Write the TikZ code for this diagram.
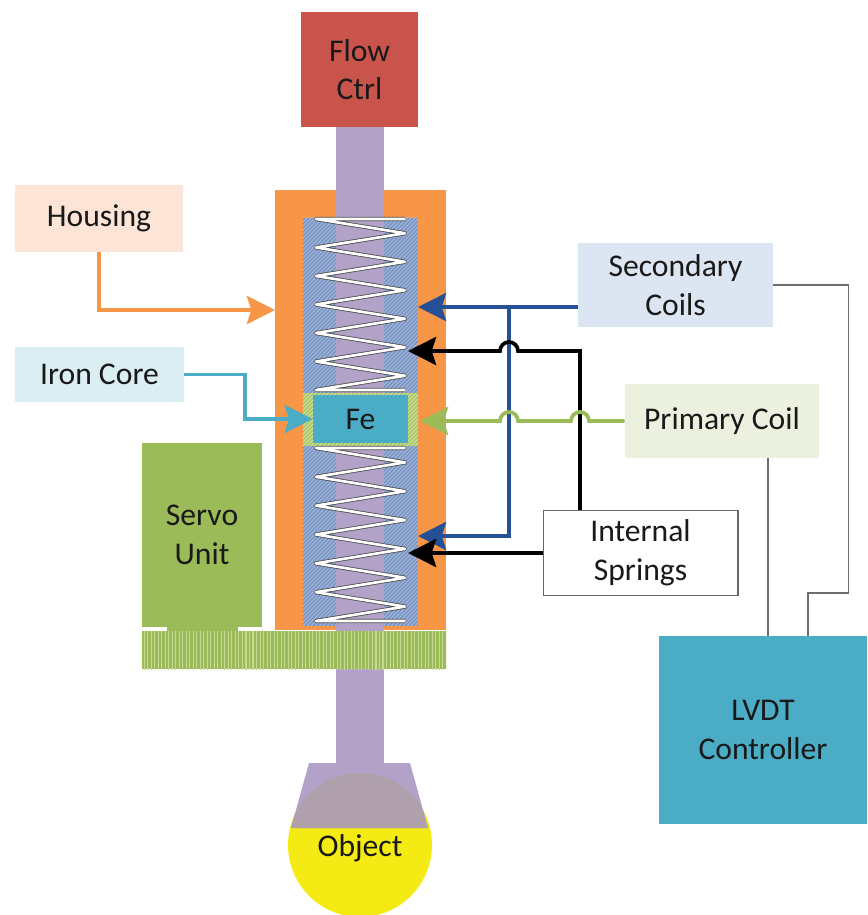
\documentclass[tikz,border=0pt]{standalone}
\usepackage{fontspec}
\setmainfont{Carlito}
\usetikzlibrary{arrows.meta,patterns.meta,positioning}

\definecolor{housingorange}{RGB}{247,150,70}
\definecolor{coilblue}{RGB}{122,148,196}
\definecolor{coilhatch}{RGB}{168,188,220}
\definecolor{rodpurple}{RGB}{178,162,199}
\definecolor{corebase}{RGB}{168,198,104}
\definecolor{corehatch}{RGB}{212,228,165}
\definecolor{fecyan}{RGB}{75,172,198}
\definecolor{flowred}{RGB}{200,84,76}
\definecolor{servogreen}{RGB}{155,187,89}
\definecolor{basehatch}{RGB}{198,218,150}
\definecolor{objyellow}{RGB}{245,235,20}
\definecolor{objmauve}{RGB}{176,160,172}
\definecolor{housingbg}{RGB}{252,229,214}
\definecolor{ironbg}{RGB}{218,238,243}
\definecolor{secbg}{RGB}{220,230,242}
\definecolor{pribg}{RGB}{235,241,222}
\definecolor{secblue}{RGB}{36,80,150}
\definecolor{wiregrey}{RGB}{110,110,110}

\begin{document}
\begin{tikzpicture}[x=0.02cm,y=-0.02cm,font=\fontsize{18}{22}\selectfont,
  lbl/.style={rectangle,inner sep=2pt,align=center,text=black!90},
  arr/.style={line width=2.1pt,-{Stealth[length=16pt,width=16pt,inset=2.5pt]}},
  wire/.style={draw=wiregrey,line width=0.6pt},
  hatch/.style={line width=0.45pt},
  spring/.style={draw=black!70,line width=0.45pt,double=white,double distance=1.5pt,line join=round}]
  \useasboundingbox (0,0) rectangle (867,915);

  % housing, coil bore and plunger rod
  \fill[housingorange] (275,190) rectangle (446,630);
  \fill[coilblue] (303,218) rectangle (418,626);
  \begin{scope}
    \clip (303,218) rectangle (418,626);
    \foreach \i in {-420,-416,...,120}
      \draw[hatch,coilhatch] (303+\i,626) -- ++(420,-420);
  \end{scope}
  \fill[rodpurple] (336,127) rectangle (384,763);
  \fill[corebase] (303,393) rectangle (418,446);
  \begin{scope}
    \clip (303,393) rectangle (418,446);
    \foreach \i in {-60,-56,...,120}
      \draw[hatch,corehatch] (303+\i,446) -- ++(60,-60);
  \end{scope}
  \node[lbl,fill=fecyan,minimum width=1.9cm,minimum height=0.96cm] (fe) at (360.5,419) {Fe};

  % the two springs
  \foreach \top/\bot in {219/390,448/621}
    \draw[spring] (405,\top) -- (316,\top)
      \foreach \k in {1,...,12}{ -- ({360.5+44.5*(2*mod(\k,2)-1)},{\top+\k*(\bot-\top)/12}) }
      -- (405,\bot);

  \node[lbl,fill=flowred,minimum width=2.34cm,minimum height=2.3cm] (flow) at (359.5,69.5) {Flow\\Ctrl};

  % servo and mounting plate
  \node[lbl,fill=servogreen,minimum width=2.4cm,minimum height=3.68cm] (servo) at (202,535) {Servo\\Unit};
  \fill[servogreen] (167,620) rectangle (238,631);
  \fill[servogreen,postaction={pattern={Lines[angle=90,distance=2pt,line width=0.6pt]},pattern color=basehatch}] (142,631) rectangle (446,669);

  % object at the end of the rod
  \fill[objyellow] (360,845) circle[radius=72];
  \fill[rodpurple] (309,763) -- (410,763) -- (428,828) -- (291,828) -- cycle;
  \begin{scope}
    \clip (309,763) -- (410,763) -- (428,828) -- (291,828) -- cycle;
    \fill[objmauve] (360,845) circle[radius=72];
  \end{scope}
  \node[lbl] (object) at (360,848) {Object};

  % labels
  \node[lbl,fill=housingbg,minimum width=3.36cm,minimum height=1.34cm] (housinglbl) at (99,218.5) {Housing};
  \node[lbl,fill=ironbg,minimum width=3.38cm,minimum height=1.1cm] (ironlbl) at (99.5,374.5) {Iron Core};
  \node[lbl,fill=secbg,minimum width=3.9cm,minimum height=1.68cm] (seclbl) at (675.5,285) {Secondary\\Coils};
  \node[lbl,fill=pribg,minimum width=3.88cm,minimum height=1.48cm] (prilbl) at (722,421) {Primary Coil};
  \node[lbl,draw=black!60,line width=0.6pt,fill=white,minimum width=3.9cm,minimum height=1.7cm] (springlbl) at (640.5,553) {Internal\\Springs};
  \node[lbl,fill=fecyan,minimum width=4.16cm,minimum height=3.76cm] (ctrl) at (763,730) {LVDT\\Controller};

  \coordinate (housingin) at (275,310);
  \coordinate (secA) at (418,307);
  \coordinate (secjoin) at (509,307);
  \coordinate (secB) at (418,536);
  \coordinate (sprA) at (408,553);
  \coordinate (sprturn) at (580,351);
  \coordinate (sprB) at (408,351);
  \coordinate (priin) at (420,421);

  % pointers
  \draw[arr,housingorange] (housinglbl.south) |- (housingin);
  \draw[arr,fecyan] (ironlbl.east) -- ++(61,0) |- (fe.west);
  \draw[arr,secblue] (seclbl.west |- secA) -- (secA);
  \draw[arr,secblue] (secjoin) |- (secB);
  \draw[arr,black] (springlbl.west) -- (sprA);
  \draw[arr,black] (springlbl.north -| sprturn) -- (sprturn) -- (518,351)
    arc[start angle=0,end angle=-180,radius=9] -- (sprB);
  \draw[arr,servogreen] (prilbl.west) -- (589,421)
    arc[start angle=0,end angle=-180,radius=9] -- (518,421)
    arc[start angle=0,end angle=-180,radius=9] -- (priin);

  % controller wiring
  \draw[wire] (seclbl.east) -- ++(75,0) |- ([xshift=0.9cm]ctrl.north |- 0,593) -- ([xshift=0.9cm]ctrl.north);
  \draw[wire] ([xshift=0.92cm]prilbl.south) -- ([xshift=0.92cm]prilbl.south |- ctrl.north);
\end{tikzpicture}
\end{document}
